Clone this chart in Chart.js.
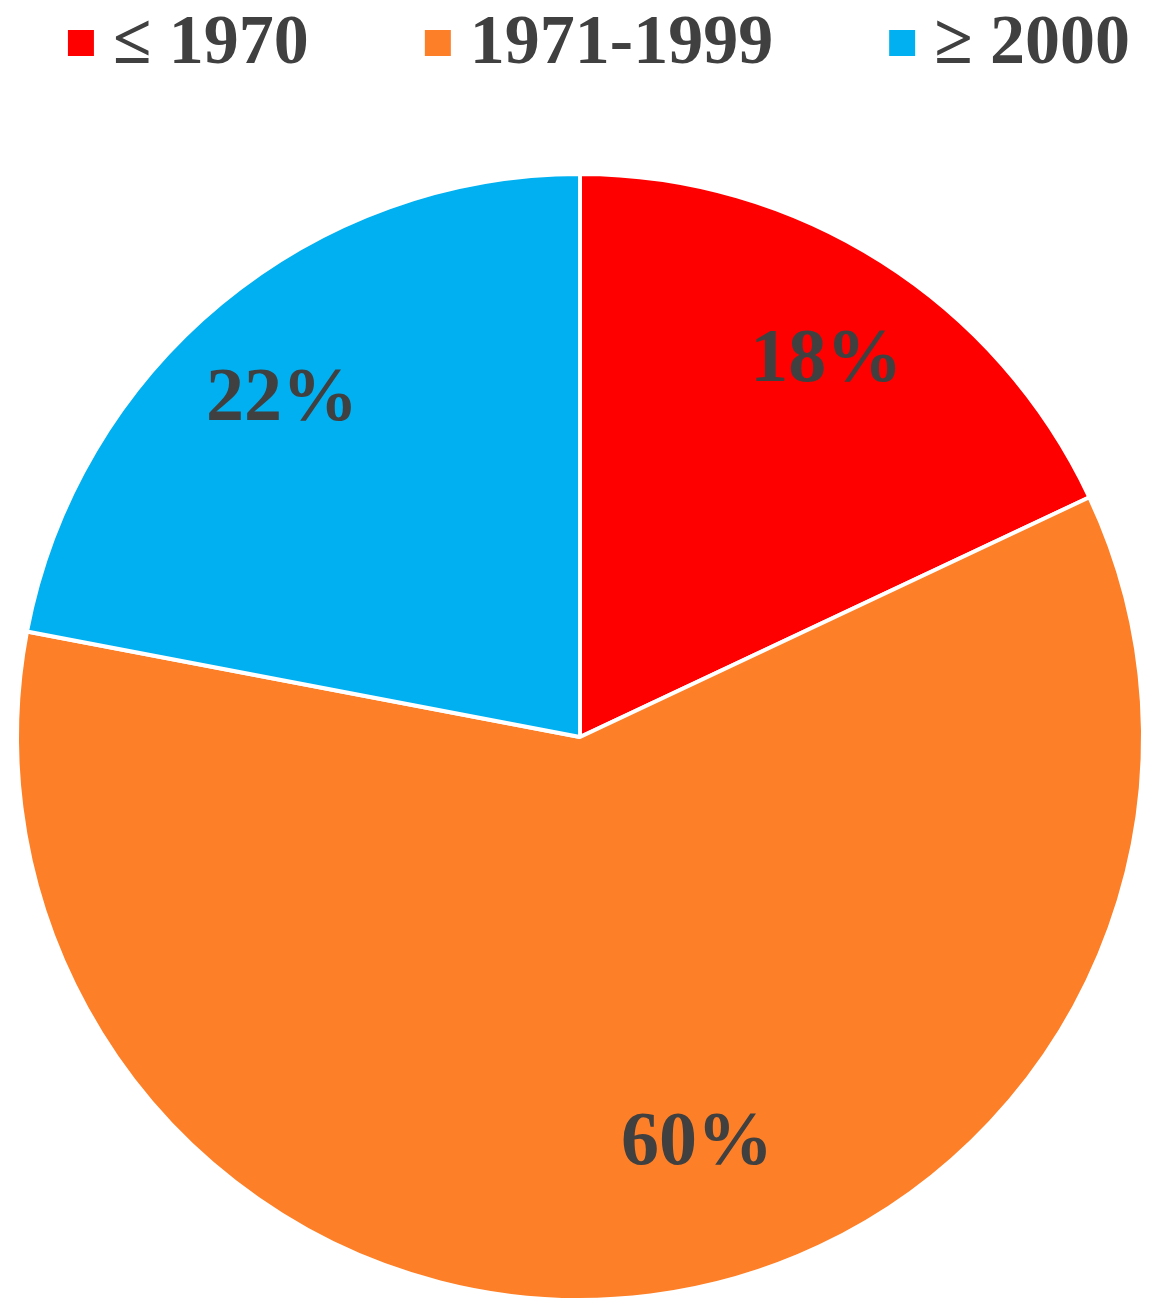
<!DOCTYPE html>
<html lang="en">
<head>
    <meta charset="UTF-8">
    <title>Construction period pie</title>
    <script src="https://cdn.jsdelivr.net/npm/chart.js@4.4.1/dist/chart.umd.min.js"></script>
    <style>
        html, body { margin: 0; padding: 0; background: #ffffff; }
        #wrap { width: 1160px; height: 1312px; position: relative; }
    </style>
</head>
<body>
    <div id="wrap">
        <canvas id="pieChart"></canvas>
    </div>

    <script>
        const periods = ['\u2264 1970', '1971-1999', '\u2265 2000'];
        const shares = [18, 60, 22];
        const sliceColors = ['#ff0000', '#fd7f27', '#00b0f0'];

        const textColor = '#404040';
        const serif = '"Liberation Serif", "Times New Roman", serif';

        // legend drawn by hand: square marker close to the text, like the original
        const topLegend = {
            id: 'topLegend',
            afterDraw(chart) {
                const ctx = chart.ctx;
                const box = 26, gap = 19, spacing = 116, midY = 43;
                ctx.save();
                ctx.font = 'bold 70px ' + serif;
                ctx.textBaseline = 'middle';
                ctx.textAlign = 'left';
                const widths = periods.map(t => ctx.measureText(t).width);
                let total = widths.reduce((a, w) => a + box + gap + w, 0) + spacing * (periods.length - 1);
                let x = (chart.width - total) / 2 + 19;
                periods.forEach((t, i) => {
                    ctx.fillStyle = sliceColors[i];
                    ctx.fillRect(x, midY - box / 2, box, box);
                    ctx.fillStyle = textColor;
                    ctx.fillText(t, x + box + gap, midY + 2);
                    x += box + gap + widths[i] + spacing;
                });
                ctx.restore();
            }
        };

        // % text inside each slice; small angle shift for the big slice (label placement only)
        const labelAngleShift = [0.5, -9, -1.5];
        const sliceLabels = {
            id: 'sliceLabels',
            afterDatasetsDraw(chart) {
                const ctx = chart.ctx;
                const meta = chart.getDatasetMeta(0);
                ctx.save();
                ctx.font = 'bold 76px ' + serif;
                ctx.fillStyle = textColor;
                ctx.textAlign = 'center';
                ctx.textBaseline = 'middle';
                meta.data.forEach((arc, i) => {
                    const p = arc.getProps(['x', 'y', 'startAngle', 'endAngle', 'outerRadius']);
                    const mid = (p.startAngle + p.endAngle) / 2 + labelAngleShift[i] * Math.PI / 180;
                    const r = p.outerRadius * (i === 1 ? 0.745 : 0.805);
                    ctx.fillText(shares[i] + '%', p.x + Math.cos(mid) * r, p.y + Math.sin(mid) * r + 5);
                });
                ctx.restore();
            }
        };

        const pieChart = new Chart('pieChart', {
            type: 'pie',
            data: {
                labels: periods,
                datasets: [{
                    data: shares,
                    backgroundColor: sliceColors,
                    borderColor: '#ffffff',
                    borderWidth: 4
                }]
            },
            options: {
                responsive: true,
                maintainAspectRatio: false,
                animation: false,
                layout: { padding: { top: 172, bottom: 10, left: 0, right: 0 } },
                plugins: {
                    legend: { display: false },
                    tooltip: { enabled: false }
                }
            },
            plugins: [sliceLabels, topLegend]
        });
    </script>
</body>
</html>
